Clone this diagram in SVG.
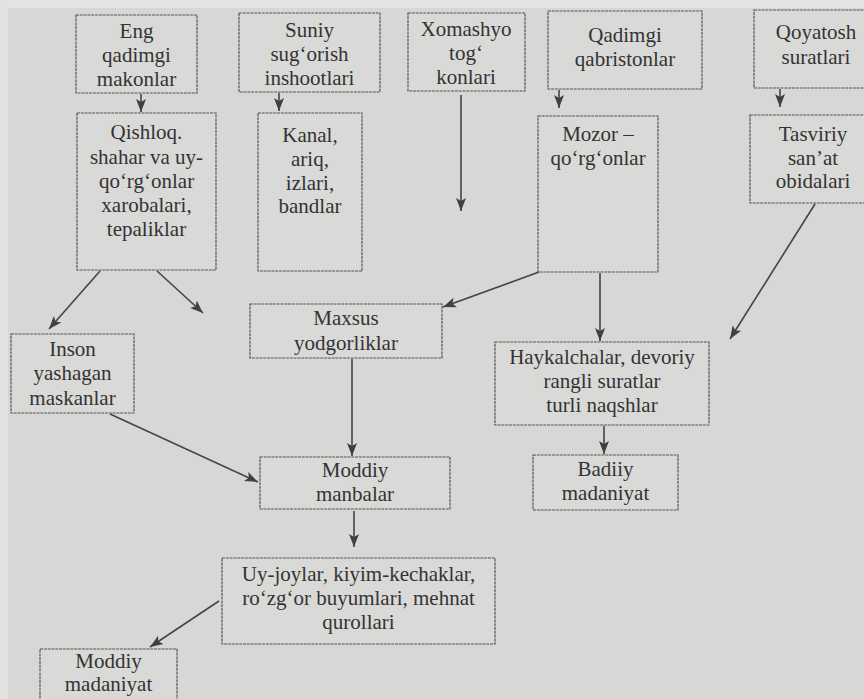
<svg xmlns="http://www.w3.org/2000/svg" width="864" height="699" viewBox="0 0 864 699" font-family="Liberation Serif, DejaVu Serif, serif">
<style>
.box{fill:#d9d9d7;stroke:#555;stroke-width:1.2;stroke-dasharray:3 0.8}
.t{font-size:21px;fill:#333;text-anchor:middle}
.c{stroke:#444;stroke-width:1.6;fill:none;marker-end:url(#ah)}
</style>
<defs>
<marker id="ah" markerUnits="userSpaceOnUse" markerWidth="14" markerHeight="12" viewBox="0 0 14 12" refX="13" refY="6" orient="auto">
<path d="M0,1 L13,6 L0,11 L3,6 z" fill="#404040"/>
</marker>
</defs>
<rect x="0" y="0" width="864" height="699" fill="#d7d7d5"/>
<rect x="0" y="0" width="864" height="8" fill="#e4e4e2"/>
<rect x="0" y="0" width="8" height="699" fill="#e2e2e0"/>

<g id="n-eng"><rect class="box" x="76" y="15" width="121" height="78"/>
<text class="t" x="136.5" y="38">Eng</text><text class="t" x="136.5" y="62">qadimgi</text><text class="t" x="136.5" y="86">makonlar</text></g>

<g id="n-suniy"><rect class="box" x="239" y="13" width="141" height="79"/>
<text class="t" x="309.5" y="37">Suniy</text><text class="t" x="309.5" y="61">sug‘orish</text><text class="t" x="309.5" y="85">inshootlari</text></g>

<g id="n-xomashyo"><rect class="box" x="408" y="13" width="117" height="78"/>
<text class="t" x="466" y="36">Xomashyo</text><text class="t" x="466" y="60">tog‘</text><text class="t" x="466" y="84">konlari</text></g>

<g id="n-qadimgi"><rect class="box" x="548" y="11" width="154" height="78"/>
<text class="t" x="625" y="42">Qadimgi</text><text class="t" x="625" y="66">qabristonlar</text></g>

<g id="n-qoyatosh"><rect class="box" x="754" y="10" width="124" height="78"/>
<text class="t" x="816" y="39">Qoyatosh</text><text class="t" x="816" y="64">suratlari</text></g>

<g id="n-qishloq"><rect class="box" x="77" y="113" width="139" height="157"/>
<text class="t" x="146.5" y="139">Qishloq.</text><text class="t" x="146.5" y="164">shahar va uy-</text><text class="t" x="146.5" y="188">qo‘rg‘onlar</text><text class="t" x="146.5" y="212">xarobalari,</text><text class="t" x="146.5" y="236">tepaliklar</text></g>

<g id="n-kanal"><rect class="box" x="258" y="113" width="104" height="158"/>
<text class="t" x="310" y="142">Kanal,</text><text class="t" x="310" y="166">ariq,</text><text class="t" x="310" y="190">izlari,</text><text class="t" x="310" y="213">bandlar</text></g>

<g id="n-mozor"><rect class="box" x="538" y="116" width="120" height="156"/>
<text class="t" x="598" y="141">Mozor –</text><text class="t" x="598" y="165">qo‘rg‘onlar</text></g>

<g id="n-tasviriy"><rect class="box" x="750" y="115" width="126" height="88"/>
<text class="t" x="813" y="141">Tasviriy</text><text class="t" x="813" y="165">san’at</text><text class="t" x="813" y="188">obidalari</text></g>

<g id="n-maxsus"><rect class="box" x="250" y="304" width="192" height="54"/>
<text class="t" x="346" y="325">Maxsus</text><text class="t" x="346" y="350">yodgorliklar</text></g>

<g id="n-inson"><rect class="box" x="11" y="334" width="123" height="79"/>
<text class="t" x="72.5" y="356">Inson</text><text class="t" x="72.5" y="380">yashagan</text><text class="t" x="72.5" y="405">maskanlar</text></g>

<g id="n-haykal"><rect class="box" x="495" y="342" width="214" height="83"/>
<text class="t" x="602" y="364">Haykalchalar, devoriy</text><text class="t" x="602" y="388">rangli suratlar</text><text class="t" x="602" y="412">turli naqshlar</text></g>

<g id="n-manbalar"><rect class="box" x="260" y="457" width="190" height="52"/>
<text class="t" x="355" y="477">Moddiy</text><text class="t" x="355" y="501">manbalar</text></g>

<g id="n-badiiy"><rect class="box" x="533" y="455" width="145" height="55"/>
<text class="t" x="605.5" y="476">Badiiy</text><text class="t" x="605.5" y="500">madaniyat</text></g>

<g id="n-uyjoy"><rect class="box" x="222" y="558" width="273" height="86"/>
<text class="t" x="358.5" y="581">Uy-joylar, kiyim-kechaklar,</text><text class="t" x="358.5" y="605">ro‘zg‘or buyumlari, mehnat</text><text class="t" x="358.5" y="629">qurollari</text></g>

<g id="n-madaniyat"><rect class="box" x="40" y="649" width="137" height="70"/>
<text class="t" x="108.5" y="668">Moddiy</text><text class="t" x="108.5" y="691">madaniyat</text></g>

<g id="connectors">
<line class="c" x1="141" y1="94" x2="141" y2="112"/>
<line class="c" x1="279" y1="93" x2="279" y2="111"/>
<line class="c" x1="461" y1="95" x2="461" y2="211"/>
<line class="c" x1="559" y1="90" x2="559" y2="108"/>
<line class="c" x1="780" y1="89" x2="780" y2="107"/>
<line class="c" x1="815" y1="204" x2="730" y2="339"/>
<line class="c" x1="539" y1="272" x2="443" y2="307"/>
<line class="c" x1="600" y1="273" x2="600" y2="341"/>
<line class="c" x1="604" y1="426" x2="604" y2="454"/>
<line class="c" x1="100" y1="271" x2="49" y2="329"/>
<line class="c" x1="157" y1="271" x2="203" y2="313"/>
<line class="c" x1="110" y1="414" x2="258" y2="482"/>
<line class="c" x1="352" y1="359" x2="352" y2="456"/>
<line class="c" x1="354" y1="511" x2="354" y2="547"/>
<line class="c" x1="219" y1="601" x2="150" y2="647"/>
</g>
</svg>
